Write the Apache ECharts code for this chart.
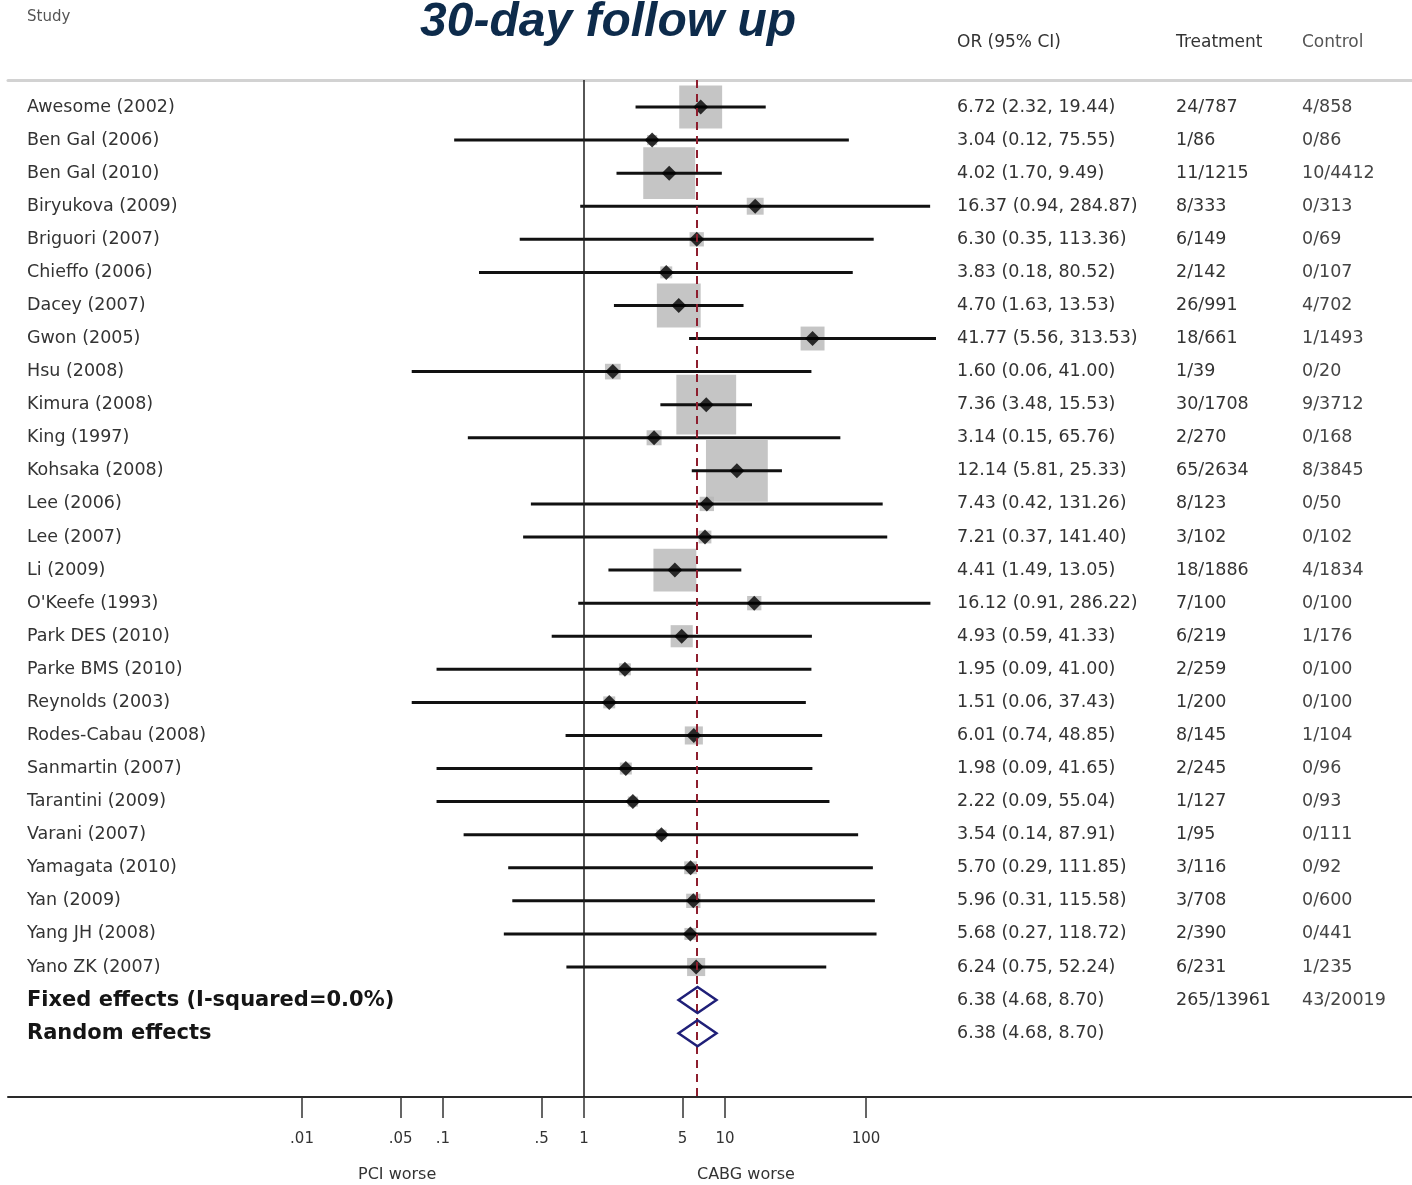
<!DOCTYPE html>
<html>
<head>
<meta charset="utf-8">
<script src="https://cdn.jsdelivr.net/npm/echarts@6.0.0/dist/echarts.min.js"></script>
<style>html,body{margin:0;padding:0;background:#fff}#c{width:1412px;height:1185px}</style>
</head>
<body>
<div id="c"></div>
<script>
// ---------- data ----------
const studies = ['Awesome (2002)','Ben Gal (2006)','Ben Gal (2010)','Biryukova (2009)','Briguori (2007)','Chieffo (2006)','Dacey (2007)','Gwon (2005)','Hsu (2008)','Kimura (2008)','King (1997)','Kohsaka (2008)','Lee (2006)','Lee (2007)','Li (2009)',"O'Keefe (1993)",'Park DES (2010)','Parke BMS (2010)','Reynolds (2003)','Rodes-Cabau (2008)','Sanmartin (2007)','Tarantini (2009)','Varani (2007)','Yamagata (2010)','Yan (2009)','Yang JH (2008)','Yano ZK (2007)'];
const orValues = [6.72,3.04,4.02,16.37,6.30,3.83,4.70,41.77,1.60,7.36,3.14,12.14,7.43,7.21,4.41,16.12,4.93,1.95,1.51,6.01,1.98,2.22,3.54,5.70,5.96,5.68,6.24];
const ciLower = [2.32,0.12,1.70,0.94,0.35,0.18,1.63,5.56,0.06,3.48,0.15,5.81,0.42,0.37,1.49,0.91,0.59,0.09,0.06,0.74,0.09,0.09,0.14,0.29,0.31,0.27,0.75];
const ciUpper = [19.44,75.55,9.49,284.87,113.36,80.52,13.53,313.53,41.00,15.53,65.76,25.33,131.26,141.40,13.05,286.22,41.33,41.00,37.43,48.85,41.65,55.04,87.91,111.85,115.58,118.72,52.24];
const treatmentEvents = ['24/787','1/86','11/1215','8/333','6/149','2/142','26/991','18/661','1/39','30/1708','2/270','65/2634','8/123','3/102','18/1886','7/100','6/219','2/259','1/200','8/145','2/245','1/127','1/95','3/116','3/708','2/390','6/231'];
const controlEvents = ['4/858','0/86','10/4412','0/313','0/69','0/107','4/702','1/1493','0/20','9/3712','0/168','8/3845','0/50','0/102','4/1834','0/100','1/176','0/100','0/100','1/104','0/96','0/93','0/111','0/92','0/600','0/441','1/235'];
// study weights (%)
const weights = [9.0,0.5,13.2,1.4,1.0,0.7,9.4,2.8,1.2,17.5,1.1,18.7,1.0,0.8,9.0,1.0,2.4,0.7,0.7,1.6,0.7,0.5,0.5,0.8,1.0,0.7,1.6];

const pooledNames = ['Fixed effects (I-squared=0.0%)','Random effects'];
const pooledOR = [6.38,6.38];
const pooledLower = [4.68,4.68];
const pooledUpper = [8.70,8.70];
const pooledTreatment = ['265/13961',''];
const pooledControl = ['43/20019',''];

const tickValues = [0.01,0.05,0.1,0.5,1,5,10,100];
const tickLabels = ['.01','.05','.1','.5','1','5','10','100'];

// ---------- build ----------
const lg = Math.log10;
const fmt = v => v.toFixed(2);
const nS = studies.length;
const rowNames = studies.concat(pooledNames);
const rowOR = orValues.concat(pooledOR);
const rowLo = ciLower.concat(pooledLower);
const rowHi = ciUpper.concat(pooledUpper);
const rowTrt = treatmentEvents.concat(pooledTreatment);
const rowCtl = controlEvents.concat(pooledControl);
const rowIdx = rowNames.map((_, i) => i);

const FONT = 'DejaVu Sans';
const TXT = '#333333';

const chart = echarts.init(document.getElementById('c'), null, {renderer: 'canvas'});

const option = {
  backgroundColor: '#ffffff',
  animation: false,
  title: [
    {text: '30-day follow up', left: 420, top: -1, padding: 0,
     textStyle: {fontFamily: 'Liberation Sans', fontSize: 48, fontWeight: 'bold', fontStyle: 'italic', color: '#0d2b4b'}},
    {text: 'Study', left: 27, top: 10, padding: 0, textStyle: {fontFamily: FONT, fontSize: 15, fontWeight: 'normal', color: '#555'}},
    {text: 'OR (95% CI)', left: 957, top: 34, padding: 0, textStyle: {fontFamily: FONT, fontSize: 17, fontWeight: 'normal', color: TXT}},
    {text: 'Treatment', left: 1176, top: 34, padding: 0, textStyle: {fontFamily: FONT, fontSize: 17, fontWeight: 'normal', color: TXT}},
    {text: 'Control', left: 1302, top: 34, padding: 0, textStyle: {fontFamily: FONT, fontSize: 17, fontWeight: 'normal', color: '#555'}},
    {text: 'PCI worse', left: 358, top: 1167, padding: 0, textStyle: {fontFamily: FONT, fontSize: 16, fontWeight: 'normal', color: TXT}},
    {text: 'CABG worse', left: 697, top: 1167, padding: 0, textStyle: {fontFamily: FONT, fontSize: 16, fontWeight: 'normal', color: TXT}}
  ],
  grid: {left: 8, right: 0, top: 80, bottom: 88, containLabel: false},
  xAxis: [
    {type: 'value', position: 'bottom', min: -4.085, max: 5.872,
     axisLine: {show: true, onZero: false, lineStyle: {color: '#2a2a2a', width: 2}},
     axisTick: {show: true, customValues: tickValues.map(lg), length: 21, lineStyle: {color: '#333', width: 1.5}},
     axisLabel: {show: true, customValues: tickValues.map(lg), margin: 35, fontFamily: FONT, fontSize: 15, color: TXT,
       formatter: v => { const k = tickValues.findIndex(t => Math.abs(lg(t) - v) < 1e-6); return k >= 0 ? tickLabels[k] : ''; }},
     splitLine: {show: false}},
    {type: 'value', position: 'top', min: -4.085, max: 5.872,
     axisLine: {show: true, onZero: false, lineStyle: {color: '#d2d2d2', width: 3}},
     axisTick: {show: false}, axisLabel: {show: false}, splitLine: {show: false}}
  ],
  yAxis: {
    type: 'value', inverse: true, min: -0.816, max: 29.93,
    axisLine: {show: false}, axisTick: {show: false}, splitLine: {show: false},
    axisLabel: {
      show: true, inside: true, margin: 19, customValues: rowIdx,
      formatter: v => {
        const i = Math.round(v);
        const nameStyle = i >= nS ? 'bold' : 'name';
        return '{' + nameStyle + '|' + rowNames[i] + '}{orc|' + fmt(rowOR[i]) + ' (' + fmt(rowLo[i]) + ', ' + fmt(rowHi[i]) + ')}{trt|' + rowTrt[i] + '}{ctl|' + rowCtl[i] + '}';
      },
      rich: {
        name: {width: 930, fontFamily: FONT, fontSize: 17.5, color: TXT},
        bold: {width: 930, fontFamily: FONT, fontSize: 21, fontWeight: 'bold', color: '#151515'},
        orc: {width: 219, fontFamily: FONT, fontSize: 17.5, color: TXT},
        trt: {width: 126, fontFamily: FONT, fontSize: 17.5, color: TXT},
        ctl: {fontFamily: FONT, fontSize: 17.5, color: '#444'}
      }
    }
  },
  series: [
    {
      name: 'weights', type: 'scatter', symbol: 'rect', z: 2,
      data: orValues.map((v, i) => [lg(v), i, weights[i]]),
      symbolSize: d => Math.sqrt(d[2]) * 14.3,
      itemStyle: {color: '#b7b7b7'},
      markLine: {
        silent: true, symbol: 'none', label: {show: false}, animation: false,
        data: [
          {xAxis: lg(1), lineStyle: {color: '#1e1e1e', width: 1.5, type: 'solid'}},
          {xAxis: lg(pooledOR[0]), lineStyle: {color: '#8e1e2e', width: 2, type: [8, 6]}}
        ]
      }
    },
    {
      name: 'ci', type: 'custom', z: 3,
      data: ciLower.map((lo, i) => [lg(lo), lg(ciUpper[i]), i]),
      renderItem: (params, api) => {
        const a = api.coord([api.value(0), api.value(2)]);
        const b = api.coord([api.value(1), api.value(2)]);
        return {type: 'line', shape: {x1: a[0], y1: a[1], x2: b[0], y2: b[1]}, style: {stroke: '#111', lineWidth: 3}};
      }
    },
    {
      name: 'estimate', type: 'scatter', symbol: 'diamond', symbolSize: 15, z: 4,
      data: orValues.map((v, i) => [lg(v), i]),
      itemStyle: {color: '#000'}
    },
    {
      name: 'pooled', type: 'custom', z: 5,
      data: pooledOR.map((v, j) => [lg(pooledLower[j]), lg(v), lg(pooledUpper[j]), nS + j]),
      renderItem: (params, api) => {
        const y = api.value(3);
        const l = api.coord([api.value(0), y]);
        const c = api.coord([api.value(1), y]);
        const r = api.coord([api.value(2), y]);
        const h = 13;
        return {type: 'polygon', shape: {points: [[l[0], l[1]], [c[0], c[1] - h], [r[0], r[1]], [c[0], c[1] + h]]},
                style: {fill: 'rgba(0,0,0,0)', stroke: '#1f1f78', lineWidth: 2.5}};
      }
    }
  ]
};
chart.setOption(option);
</script>
</body>
</html>
